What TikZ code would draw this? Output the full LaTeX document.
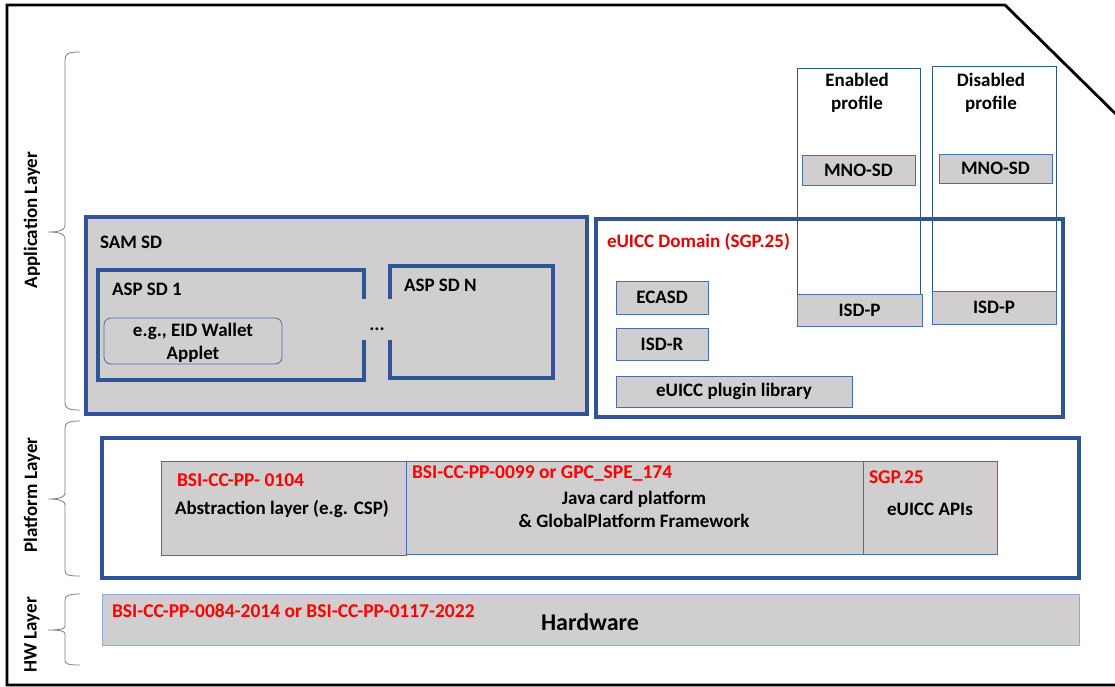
\documentclass[tikz,border=0pt]{standalone}
\usepackage{fontspec}
\setmainfont{Carlito}
\usetikzlibrary{calc}
\definecolor{boxgray}{HTML}{D0CECE}
\definecolor{dblue}{HTML}{2F5597}
\definecolor{mblue}{HTML}{4A6CB0}
\definecolor{lblue}{HTML}{8FAADC}
\definecolor{txtred}{HTML}{FF0000}
\definecolor{domred}{HTML}{E00000}
\definecolor{brgray}{HTML}{808080}
\begin{document}
\begin{tikzpicture}[x=1pt,y=-1pt,
  every node/.style={font=\fontsize{19}{23}\selectfont\bfseries, inner sep=0pt, outer sep=0pt},
  blk/.style={anchor=north west, minimum width=#1},
  thickbox/.style={draw=dblue, line width=3.2pt},
  thinbox/.style={draw=mblue, line width=0.9pt, fill=boxgray},
  colbox/.style={draw=dblue, line width=0.8pt, fill=white},
  redtxt/.style={text=txtred, anchor=base west, font=\fontsize{19.5}{23}\selectfont\bfseries},
  lbl/.style={anchor=base west},
  bracepath/.style={draw=brgray, line width=0.8pt},
  layerlbl/.style={rotate=90, anchor=center}
]
\useasboundingbox (0,0) rectangle (1115,686);
\fill[white] (0,0) rectangle (1115,686);

% outer frame with cut corner
\draw[line width=2.8pt, line join=miter] (1130,128) -- (1005,5) -- (7,5) -- (7,685) -- (1130,685);

% braces
\draw[bracepath] (80,52) .. controls (68,52) and (65,54) .. (65,60) -- (65,225) .. controls (65,230) and (60,232) .. (48,232)
  .. controls (60,232) and (65,234) .. (65,239) -- (65,403) .. controls (65,408) and (68,410) .. (80,410);
\draw[bracepath] (80,421) .. controls (68,421) and (65,423) .. (65,428) -- (65,493) .. controls (65,497) and (60,499) .. (48,499)
  .. controls (60,499) and (65,501) .. (65,505) -- (65,570) .. controls (65,575) and (68,576) .. (80,576);
\draw[bracepath] (80,594) .. controls (68,594) and (65,596) .. (65,600) -- (65,626) .. controls (65,629) and (60,630) .. (48,630)
  .. controls (60,630) and (65,631) .. (65,634) -- (65,660) .. controls (65,664) and (68,665) .. (80,665);

\node[layerlbl] (applayer) at (32,220) {Application Layer};
\node[layerlbl] (platlayer) at (32,495) {Platform Layer};
\node[layerlbl] (hwlayer) at (32,635) {HW Layer};

% SAM SD
\node[blk=501pt, minimum height=197pt, thickbox, fill=boxgray] (sam) at (86,217) {};
\node[lbl] (samlbl) at (100,248) {SAM SD};

\node[blk=266pt, minimum height=110pt] (asp1) at (98,270) {};
\draw[dblue, line width=3.2pt, line join=miter] ($(asp1.north east)+(0,29)$) -- (asp1.north east) -- (asp1.north west) -- (asp1.south west) -- (asp1.south east) -- ($(asp1.south east)+(0,-40)$);
\node[lbl] (asp1lbl) at (112,295) {ASP SD 1};
\node[blk=178pt, minimum height=46pt, draw=mblue, line width=0.8pt, fill=boxgray, rounded corners=7pt] (eid) at (104,318) {};
\node[anchor=base, align=center] (eidlbl) at (193,359) {e.g., EID Wallet\\Applet};

\node[blk=163pt, minimum height=112pt] (aspn) at (390,266) {};
\draw[dblue, line width=3.2pt, line join=miter] ($(aspn.north west)+(0,33)$) -- (aspn.north west) -- (aspn.north east) -- (aspn.south east) -- (aspn.south west) -- ($(aspn.south west)+(0,-38)$);
\node[lbl] (aspnlbl) at (404,291) {ASP SD N};
\node[anchor=base] (dots) at (377,330) {...};

% eUICC domain
\node[blk=467pt, minimum height=198pt, fill=white] (dom) at (596,219) {};
\node[blk=123pt, minimum height=258pt, colbox] (en) at (797,68) {};
\node[blk=124pt, minimum height=258pt, colbox] (dis) at (932,66) {};
\draw[thickbox] (dom.north west) rectangle (dom.south east);
\node[text=domred, anchor=base west] (domlbl) at (607,247) {eUICC Domain (SGP.25)};

\node[anchor=base, align=center] (enlbl) at (857,109) {Enabled\\profile};
\node[anchor=base, align=center] (dislbl) at (991,109) {Disabled\\profile};
\node[blk=113pt, minimum height=30pt, thinbox] (mno1) at (802,155) {MNO-SD};
\node[blk=113pt, minimum height=29pt, thinbox] (mno2) at (939,154) {MNO-SD};
\node[blk=125pt, minimum height=32pt, thinbox] (isdp1) at (797,294) {ISD-P};
\node[blk=124pt, minimum height=33pt, thinbox] (isdp2) at (932,291) {ISD-P};

\node[blk=92pt, minimum height=33pt, thinbox] (ecasd) at (616,281) {ECASD};
\node[blk=92pt, minimum height=32pt, thinbox] (isdr) at (616,328) {ISD-R};
\node[blk=236pt, minimum height=31pt, thinbox] (plug) at (616,376) {eUICC plugin library};

% Platform layer
\node[blk=977pt, minimum height=140pt, thickbox, fill=white] (plat) at (102,438) {};
\node[blk=245pt, minimum height=94pt, thinbox] (abs) at (161,461) {};
\node[blk=457pt, minimum height=93pt, thinbox] (java) at (406,461) {};
\node[blk=134pt, minimum height=93pt, thinbox] (api) at (863,461) {};
\node[redtxt] (absref) at (177,486) {BSI-CC-PP- 0104};
\node[lbl] (abslbl) at (175,514) {Abstraction layer (e.g. CSP)};
\node[redtxt] (javaref) at (412,478) {BSI-CC-PP-0099 or GPC\_SPE\_174};
\node[anchor=base, align=center] (javalbl) at (634,527) {Java card platform\\\& GlobalPlatform Framework};
\node[redtxt] (apiref) at (869,483) {SGP.25};
\node[anchor=base] (apilbl) at (930,515) {eUICC APIs};

% Hardware layer
\node[blk=977pt, minimum height=51pt, draw=lblue, line width=1pt, fill=boxgray] (hw) at (102,594) {};
\node[redtxt] (hwref) at (112,617) {BSI-CC-PP-0084-2014 or BSI-CC-PP-0117-2022};
\node[anchor=base, font=\fontsize{24}{28}\selectfont\bfseries] (hwlbl) at (590,630) {Hardware};
\end{tikzpicture}
\end{document}
